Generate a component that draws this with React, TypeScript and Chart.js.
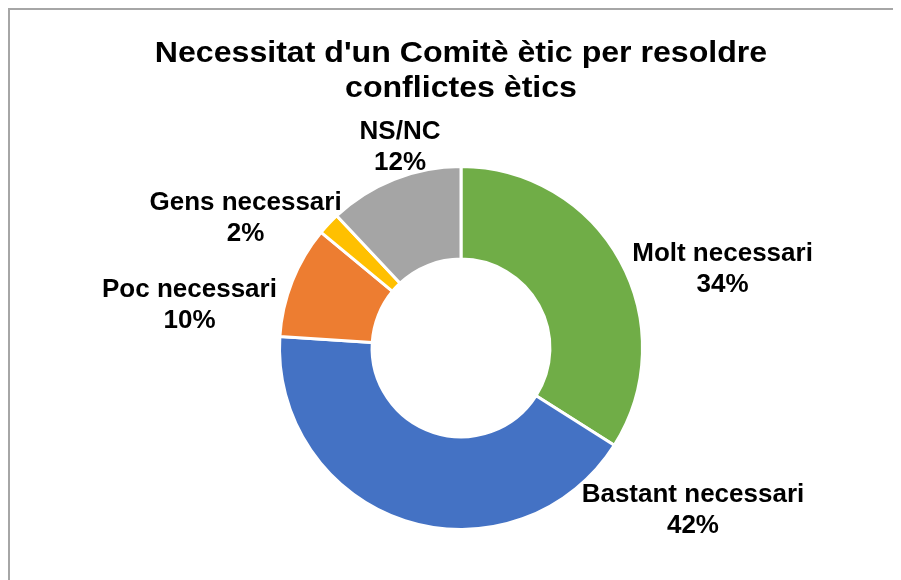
import React, { useEffect, useRef } from "react";
import { Chart, registerables } from "chart.js";

Chart.register(...registerables);

const titleLines = ["Necessitat d'un Comitè ètic per resoldre", "conflictes ètics"];
const categories = ["Molt necessari", "Bastant necessari", "Poc necessari", "Gens necessari", "NS/NC"];
const percentages = [34, 42, 10, 2, 12];
const sliceColors = ["#70AD47", "#4472C4", "#ED7D31", "#FFC000", "#A5A5A5"];

// Label block centres, expressed as multiples of the outer radius from the doughnut centre
const labelPlacement: [number, number][] = [
  [1.441, -0.43],
  [1.278, 0.895],
  [-1.496, -0.235],
  [-1.187, -0.715],
  [-0.336, -1.105],
];

const FONT_FAMILY = '"Liberation Sans", Arial, sans-serif';
const TITLE_SIZE = 30;
const TITLE_SX = 1.07;
const TITLE_TOP = 44;
const TITLE_LINE_GAP = 35;
const LABEL_SIZE = 25;
const LABEL_SX = 1.04;
const LABEL_LINE_GAP = 31;

function drawScaled(ctx: CanvasRenderingContext2D, text: string, x: number, y: number, sx: number) {
  ctx.save();
  ctx.translate(x, y);
  ctx.scale(sx, 1);
  ctx.fillText(text, 0, 0);
  ctx.restore();
}

const textPlugin = {
  id: "textDraw",
  afterDraw(chart: any) {
    const ctx: CanvasRenderingContext2D = chart.ctx;
    const meta = chart.getDatasetMeta(0);
    const arc0 = meta.data[0] as any;
    const cx = arc0.x;
    const cy = arc0.y;
    const R = arc0.outerRadius;
    ctx.save();
    ctx.fillStyle = "#000000";
    ctx.textAlign = "center";
    ctx.textBaseline = "middle";
    ctx.font = `bold ${TITLE_SIZE}px ${FONT_FAMILY}`;
    titleLines.forEach((line, i) => drawScaled(ctx, line, cx, TITLE_TOP + i * TITLE_LINE_GAP, TITLE_SX));
    ctx.font = `bold ${LABEL_SIZE}px ${FONT_FAMILY}`;
    categories.forEach((cat, i) => {
      const [fx, fy] = labelPlacement[i];
      const x = cx + fx * R;
      const y = cy + fy * R;
      drawScaled(ctx, cat, x, y - LABEL_LINE_GAP / 2, LABEL_SX);
      drawScaled(ctx, `${percentages[i]}%`, x, y + LABEL_LINE_GAP / 2, LABEL_SX);
    });
    ctx.restore();
  },
};

export default function App() {
  const canvasRef = useRef<HTMLCanvasElement | null>(null);

  useEffect(() => {
    if (!canvasRef.current) return;
    const chart = new Chart(canvasRef.current, {
      type: "doughnut",
      data: {
        labels: categories,
        datasets: [
          {
            data: percentages,
            backgroundColor: sliceColors,
            borderColor: "#ffffff",
            borderWidth: 3,
            hoverOffset: 0,
          },
        ],
      },
      options: {
        responsive: false,
        animation: false,
        cutout: "49%",
        layout: { padding: { top: 155, left: 11, right: 0, bottom: 49 } },
        plugins: {
          legend: { display: false },
          tooltip: { enabled: false },
          title: { display: false },
        },
      },
      plugins: [textPlugin],
    });
    return () => chart.destroy();
  }, []);

  return (
    <div style={{ width: 893, height: 572, overflow: "visible" }}>
      <style>{"html,body{overflow:hidden}"}</style>
      <div
        style={{
          borderTop: "2px solid #a6a6a6",
          borderLeft: "2px solid #a6a6a6",
          width: 905,
          height: 580,
          background: "#ffffff",
        }}
      >
        <canvas ref={canvasRef} width={891} height={570} style={{ display: "block" }} />
      </div>
    </div>
  );
}
